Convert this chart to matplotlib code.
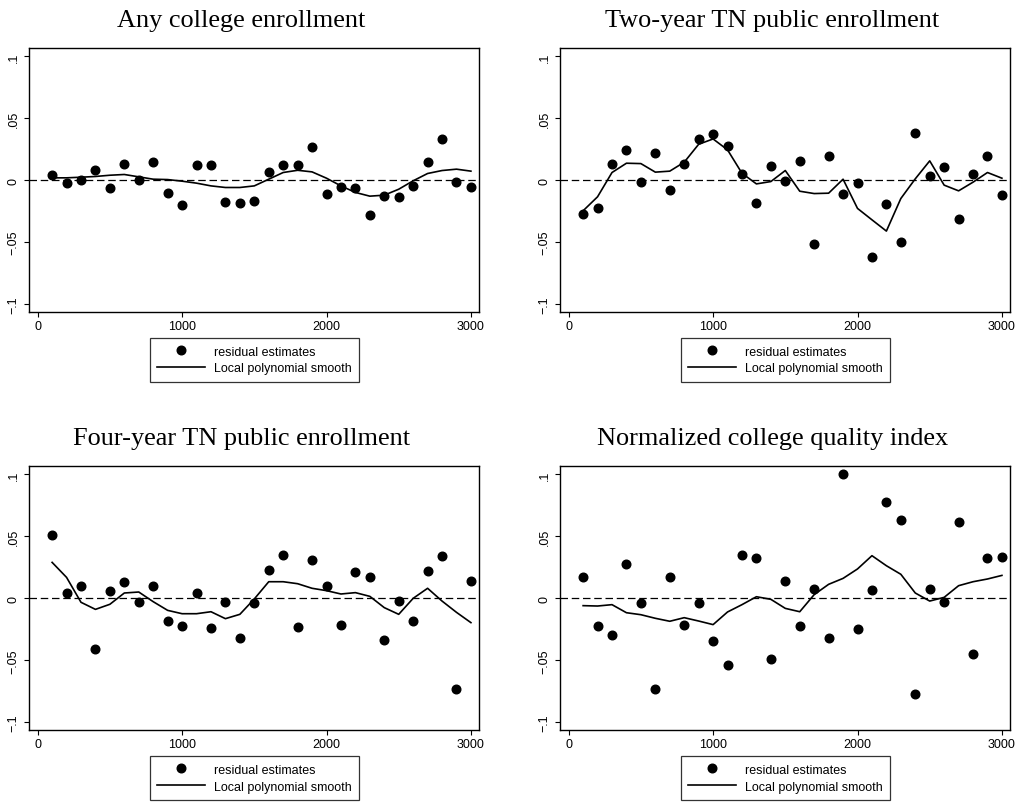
import matplotlib
matplotlib.use("Agg")
import matplotlib.pyplot as plt
from matplotlib.lines import Line2D
from matplotlib.ticker import FixedLocator

plt.rcParams['font.family'] = ['Liberation Sans', 'DejaVu Sans']

bins = [100, 200, 300, 400, 500, 600, 700, 800, 900, 1000,
        1100, 1200, 1300, 1400, 1500, 1600, 1700, 1800, 1900, 2000,
        2100, 2200, 2300, 2400, 2500, 2600, 2700, 2800, 2900, 3000]

titles = ["Any college enrollment", "Two-year TN public enrollment",
          "Four-year TN public enrollment", "Normalized college quality index"]

any_pts = [0.0043, -0.0022, 0.0003, 0.0080, -0.0065, 0.0134, 0.0000, 0.0150, -0.0102, -0.0204,
           0.0120, 0.0126, -0.0177, -0.0183, -0.0169, 0.0070, 0.0120, 0.0124, 0.0266, -0.0108,
           -0.0051, -0.0065, -0.0280, -0.0129, -0.0134, -0.0043, 0.0150, 0.0330, -0.0013, -0.0051]
any_fit = [0.0019, 0.0019, 0.0024, 0.0030, 0.0040, 0.0046, 0.0027, 0.0008, 0.0005, -0.0008,
           -0.0024, -0.0046, -0.0059, -0.0059, -0.0046, 0.0008, 0.0062, 0.0080, 0.0067, 0.0016,
           -0.0046, -0.0099, -0.0129, -0.0121, -0.0073, -0.0005, 0.0054, 0.0078, 0.0089, 0.0073]

two_pts = [-0.0277, -0.0226, 0.0129, 0.0245, -0.0013, 0.0220, -0.0081, 0.0134, 0.0333, 0.0374,
           0.0277, 0.0051, -0.0188, 0.0113, -0.0003, 0.0153, -0.0519, 0.0199, -0.0113, -0.0019,
           -0.0624, -0.0191, -0.0503, 0.0384, 0.0030, 0.0105, -0.0317, 0.0051, 0.0199, -0.0116]
two_fit = [-0.0247, -0.0134, 0.0062, 0.0137, 0.0134, 0.0065, 0.0073, 0.0145, 0.0290, 0.0333,
           0.0245, 0.0056, -0.0030, -0.0011, 0.0078, -0.0089, -0.0108, -0.0105, 0.0008, -0.0228,
           -0.0320, -0.0411, -0.0148, 0.0011, 0.0156, -0.0040, -0.0086, -0.0016, 0.0062, 0.0016]

four_pts = [0.0511, 0.0043, 0.0099, -0.0409, 0.0062, 0.0134, -0.0027, 0.0102, -0.0185, -0.0220,
            0.0043, -0.0237, -0.0030, -0.0323, -0.0035, 0.0228, 0.0349, -0.0231, 0.0306, 0.0097,
            -0.0212, 0.0210, 0.0169, -0.0339, -0.0022, -0.0183, 0.0223, 0.0341, -0.0731, 0.0137]
four_fit = [0.0290, 0.0169, -0.0032, -0.0089, -0.0048, 0.0043, 0.0051, -0.0027, -0.0097, -0.0124,
            -0.0124, -0.0108, -0.0164, -0.0129, -0.0005, 0.0134, 0.0134, 0.0118, 0.0081, 0.0062,
            0.0035, 0.0046, 0.0016, -0.0075, -0.0129, 0.0000, 0.0081, -0.0022, -0.0113, -0.0196]

qual_pts = [0.0175, -0.0220, -0.0296, 0.0274, -0.0038, -0.0731, 0.0175, -0.0212, -0.0038, -0.0344,
            -0.0538, 0.0349, 0.0325, -0.0487, 0.0140, -0.0223, 0.0078, -0.0323, 0.1003, -0.0247,
            0.0070, 0.0777, 0.0632, -0.0774, 0.0078, -0.0032, 0.0616, -0.0452, 0.0328, 0.0336]
qual_fit = [-0.0059, -0.0062, -0.0051, -0.0116, -0.0132, -0.0161, -0.0185, -0.0156, -0.0183, -0.0212,
            -0.0110, -0.0051, 0.0013, -0.0008, -0.0081, -0.0108, 0.0030, 0.0113, 0.0161, 0.0237,
            0.0344, 0.0263, 0.0194, 0.0043, -0.0022, 0.0008, 0.0102, 0.0134, 0.0156, 0.0185]

points = [any_pts, two_pts, four_pts, qual_pts]
fits = [any_fit, two_fit, four_fit, qual_fit]

xticks = [0, 1000, 2000, 3000]
xtick_labels = ["0", "1000", "2000", "3000"]
yticks = [-0.1, -0.05, 0, 0.05, 0.1]
ytick_labels = ["\u2212.1", "\u2212.05", "0", ".05", ".1"]
legend_labels = ["residual estimates", "Local polynomial smooth"]

W, H = 1021, 803
fig = plt.figure(figsize=(W / 100, H / 100), dpi=100)

# axes boxes in pixels: (left, top, right, bottom)
boxes = [(29.3, 49.3, 479.3, 312.7), (560.3, 49.3, 1010.3, 312.7),
         (29.3, 467.3, 479.3, 731.0), (560.3, 467.3, 1010.3, 731.0)]

for i in range(4):
    l, t, r, b = boxes[i]
    ax = fig.add_axes([l / W, 1 - b / H, (r - l) / W, (b - t) / H])
    ax.axhline(0, color='black', lw=0.9, ls=(0, (6, 3)), zorder=1)
    ax.plot(bins, points[i], 'o', color='black', ms=6.2, zorder=3)
    ax.plot(bins, fits[i], '-', color='black', lw=1.2, zorder=2)
    ax.set_xlim(-58, 3058)
    ax.set_ylim(-0.1062, 0.1065)
    ax.xaxis.set_major_locator(FixedLocator(xticks))
    ax.set_xticklabels(xtick_labels)
    ax.yaxis.set_major_locator(FixedLocator(yticks))
    ax.set_yticklabels(ytick_labels, rotation=90, va='center')
    ax.tick_params(direction='out', length=3.8, width=0.8, labelsize=9, pad=2, colors='black')
    ax.tick_params(axis='y', pad=3)
    for s in ax.spines.values():
        s.set_linewidth(1.0)
        s.set_color('black')
    ax.set_title(titles[i], family=['Liberation Serif'], fontsize=18.9, pad=16,
                 x=0.5 - 13 / (r - l))
    handles = [Line2D([], [], marker='o', ls='none', color='black', ms=6.2),
               Line2D([], [], ls='-', color='black', lw=1.2)]
    leg = ax.legend(handles, legend_labels, loc='upper center', bbox_to_anchor=(0.5, -0.1),
                    fontsize=9, frameon=True, fancybox=False, edgecolor='black',
                    handlelength=3.8, handletextpad=0.7, borderpad=0.6, labelspacing=0.38,
                    borderaxespad=0)
    leg.get_frame().set_linewidth(0.9)

fig.savefig("out.png", dpi=100, facecolor='white')
